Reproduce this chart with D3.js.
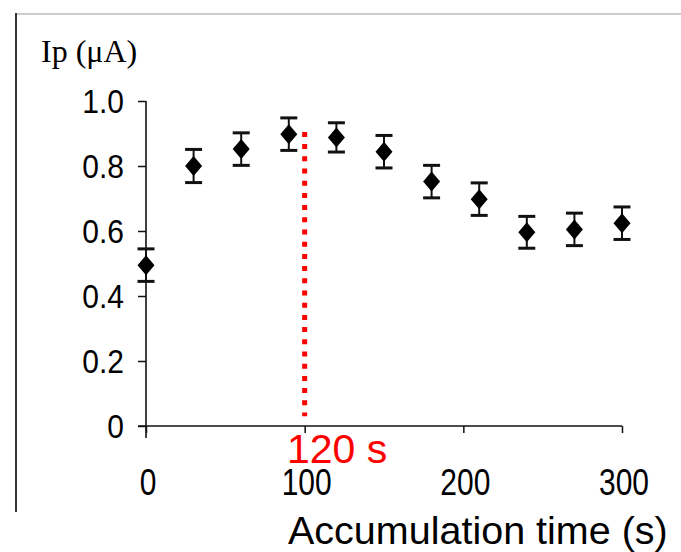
<!DOCTYPE html>
<html>
<head>
<meta charset="utf-8">
<script src="https://cdn.jsdelivr.net/npm/d3@7"></script>
<style>
  html, body { margin: 0; padding: 0; background: #fff; }
  svg { display: block; }
</style>
</head>
<body>
<script>
// accumulation time (s) and peak current (uA), with error
const times = [0, 30, 60, 90, 120, 150, 180, 210, 240, 270, 300]
const ip = [0.495, 0.80, 0.852, 0.898, 0.888, 0.844, 0.752, 0.698, 0.596, 0.605, 0.624]
const err = [0.05, 0.051, 0.05, 0.05, 0.045, 0.05, 0.05, 0.05, 0.049, 0.05, 0.05]
const xTicks = [0, 100, 200, 300]
const yTicks = [0, 0.2, 0.4, 0.6, 0.8, 1.0]
const marker = { time: 100, from: 0.03, to: 0.905, label: "120 s" }

const width = 681
const height = 552

const x = d3.scaleLinear().domain([0, 300]).range([146, 622])
const y = d3.scaleLinear().domain([0, 1]).range([426, 101])

const svg = d3.select("body").append("svg")
  .attr("width", width)
  .attr("height", height)

// frame bits of the slide
svg.append("line")
  .attr("x1", 16).attr("x2", width).attr("y1", 14).attr("y2", 14)
  .attr("stroke", "#bbb").attr("stroke-width", 1.5)
svg.append("line")
  .attr("x1", 16).attr("x2", 16).attr("y1", 13).attr("y2", 512)
  .attr("stroke", "#333").attr("stroke-width", 2)

// y axis
const yAxis = svg.append("g")
  .attr("transform", `translate(${x(0)},0)`)
  .call(d3.axisLeft(y).tickValues(yTicks).tickSize(8).tickFormat(() => ""))
yAxis.select(".domain").remove()
yAxis.selectAll(".tick line").attr("stroke", "#111").attr("stroke-width", 1.5)
svg.append("line")
  .attr("x1", x(0)).attr("x2", x(0))
  .attr("y1", y(1)).attr("y2", y(0) + 12)
  .attr("stroke", "#111").attr("stroke-width", 1.6)

svg.append("g")
  .selectAll("text")
  .data(yTicks)
  .join("text")
  .attr("transform", d => `translate(124,${y(d) + 12}) scale(1,1.1)`)
  .attr("text-anchor", "end")
  .attr("font-family", "'Liberation Sans', Arial, sans-serif")
  .attr("font-size", 30)
  .attr("fill", "#000")
  .text(d => d === 0 ? "0" : d3.format(".1f")(d))

// x axis
const xAxis = svg.append("g")
  .attr("transform", `translate(0,${y(0)})`)
  .call(d3.axisBottom(x).tickValues(xTicks).tickSize(7).tickFormat(() => ""))
xAxis.select(".domain").remove()
xAxis.selectAll(".tick line").attr("stroke", "#111").attr("stroke-width", 1.5)
svg.append("line")
  .attr("x1", x(0) - 8).attr("x2", x(300))
  .attr("y1", y(0)).attr("y2", y(0))
  .attr("stroke", "#111").attr("stroke-width", 1.5)

svg.append("g")
  .selectAll("text")
  .data(xTicks)
  .join("text")
  .attr("transform", d => `translate(${x(d) + 2},495) scale(1,1.2)`)
  .attr("text-anchor", "middle")
  .attr("font-family", "'Liberation Sans', Arial, sans-serif")
  .attr("font-size", 30)
  .attr("fill", "#000")
  .text(d => d)

// y title
svg.append("text")
  .attr("x", 41)
  .attr("y", 62)
  .attr("font-family", "'Liberation Serif', 'Times New Roman', serif")
  .attr("font-size", 32)
  .attr("fill", "#000")
  .text("Ip (\u03bcA)")

// x title
svg.append("text")
  .attr("x", 288)
  .attr("y", 544)
  .attr("font-family", "'Liberation Sans', Arial, sans-serif")
  .attr("font-size", 39.5)
  .attr("fill", "#000")
  .text("Accumulation time (s)")

// red dotted marker line
svg.append("line")
  .attr("x1", x(marker.time)).attr("x2", x(marker.time))
  .attr("y1", y(marker.to)).attr("y2", y(marker.from))
  .attr("stroke", "#ff0000")
  .attr("stroke-width", 5)
  .attr("stroke-dasharray", "5 7.2")

svg.append("text")
  .attr("x", 287)
  .attr("y", 463)
  .attr("font-family", "'Liberation Sans', Arial, sans-serif")
  .attr("font-size", 41)
  .attr("fill", "#ff0000")
  .text(marker.label)

// error bars + diamonds
const data = times.map((t, i) => ({ t, v: ip[i], e: err[i] }))
const pts = svg.append("g").selectAll("g").data(data).join("g")

pts.append("line")
  .attr("x1", d => x(d.t)).attr("x2", d => x(d.t))
  .attr("y1", d => y(d.v + d.e)).attr("y2", d => y(d.v - d.e))
  .attr("stroke", "#111").attr("stroke-width", 2)

pts.selectAll(".cap")
  .data(d => [d.v + d.e, d.v - d.e].map(v => ({ t: d.t, v })))
  .join("line")
  .attr("class", "cap")
  .attr("x1", d => x(d.t) - 8.5).attr("x2", d => x(d.t) + 8.5)
  .attr("y1", d => y(d.v)).attr("y2", d => y(d.v))
  .attr("stroke", "#111").attr("stroke-width", 3)

pts.append("path")
  .attr("d", d => {
    const cx = x(d.t), cy = y(d.v)
    return `M${cx},${cy - 10}L${cx + 8.5},${cy}L${cx},${cy + 10}L${cx - 8.5},${cy}Z`
  })
  .attr("fill", "#000")
</script>
</body>
</html>
